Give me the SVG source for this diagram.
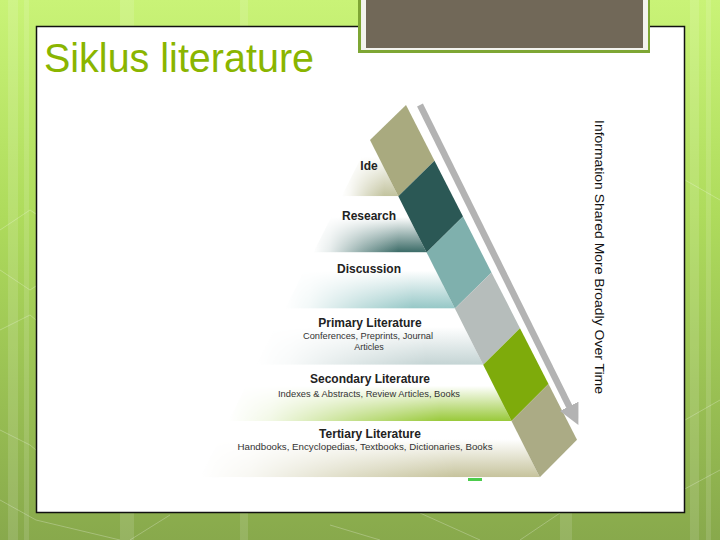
<svg xmlns="http://www.w3.org/2000/svg" width="720" height="540" viewBox="0 0 720 540">
<defs>
<linearGradient id="bg" x1="0" y1="0" x2="0" y2="1">
<stop offset="0" stop-color="#c9f377"/>
<stop offset="0.4" stop-color="#aedb5c"/>
<stop offset="1" stop-color="#88a94c"/>
</linearGradient>
<linearGradient id="mg" x1="0" y1="0" x2="1" y2="0">
<stop offset="0" stop-color="#000"/>
<stop offset="0.15" stop-color="#222"/>
<stop offset="0.45" stop-color="#999"/>
<stop offset="0.75" stop-color="#fff"/>
</linearGradient>
<mask id="fadeMask" maskContentUnits="objectBoundingBox">
<rect x="0" y="0" width="1" height="1" fill="url(#mg)"/>
</mask>
<linearGradient id="gIde" x1="0" y1="0" x2="0" y2="1">
<stop offset="0.3" stop-color="#fff"/>
<stop offset="1" stop-color="#c2c39e"/>
</linearGradient>
<linearGradient id="gRes" x1="0" y1="0" x2="0" y2="1">
<stop offset="0.35" stop-color="#fff"/>
<stop offset="1" stop-color="#3a6a66"/>
</linearGradient>
<linearGradient id="gDis" x1="0" y1="0" x2="0" y2="1">
<stop offset="0.3" stop-color="#fff"/>
<stop offset="1" stop-color="#95c7c6"/>
</linearGradient>
<linearGradient id="gPri" x1="0" y1="0" x2="0" y2="1">
<stop offset="0.3" stop-color="#fff"/>
<stop offset="1" stop-color="#c4d4d4"/>
</linearGradient>
<linearGradient id="gSec" x1="0" y1="0" x2="0" y2="1">
<stop offset="0.35" stop-color="#fff"/>
<stop offset="1" stop-color="#99c93a"/>
</linearGradient>
<linearGradient id="gTer" x1="0" y1="0" x2="0" y2="1">
<stop offset="0.3" stop-color="#fff"/>
<stop offset="1" stop-color="#c6c39c"/>
</linearGradient>
<marker id="arr" viewBox="0 0 10 10" refX="2" refY="5" markerWidth="3.2" markerHeight="3.2" orient="auto" markerUnits="strokeWidth">
<path d="M0,0 L10,5 L0,10 z" fill="#b3b3b3"/>
</marker>
</defs>
<style>
.lbl{font-family:"Liberation Sans",Arial,sans-serif;font-weight:bold;font-size:12px;fill:#222;text-anchor:middle}
.sub{font-family:"Liberation Sans",Arial,sans-serif;font-size:9px;fill:#333;text-anchor:middle}
.lay{mask:url(#fadeMask)}
</style>

<!-- background -->
<rect x="0" y="0" width="720" height="540" fill="url(#bg)"/>
<g fill="#fff" opacity="0.12">
<rect x="8" y="0" width="10" height="540"/>
<rect x="24" y="0" width="5" height="540"/>
<rect x="120" y="0" width="14" height="540"/>
<rect x="240" y="0" width="8" height="540"/>
<rect x="560" y="0" width="12" height="540"/>
<rect x="690" y="0" width="9" height="540"/>
<rect x="706" y="0" width="5" height="540"/>
</g>
<g fill="none" stroke="#fff" stroke-opacity="0.25" stroke-width="1">
<polyline points="0,230 30,210 60,230 60,270 30,290 0,270"/>
<polyline points="0,330 30,315 36,320"/>
<polyline points="0,430 30,445 36,450"/>
<polyline points="0,500 36,520 120,540"/>
<polyline points="130,540 170,515"/>
<polyline points="330,525 380,540"/>
<polyline points="420,513 480,540"/>
<polyline points="520,540 560,513"/>
<polyline points="640,513 720,470"/>
<polyline points="685,420 720,400"/>
<polyline points="685,180 720,200"/>
<polyline points="600,26 640,0"/>
</g>

<!-- panel -->
<rect x="36.5" y="26.5" width="648" height="486" fill="#fff" stroke="#111" stroke-width="1.5"/>

<!-- top box -->
<g id="topbox">
<rect x="358" y="-2" width="292" height="55" fill="#7ea634"/>
<rect x="361" y="-2" width="287" height="52" fill="#f3f3ee"/>
<rect x="366" y="-2" width="277" height="50" fill="#716858"/>
</g>

<text x="44" y="72" font-family="'Liberation Sans',Arial,sans-serif" font-size="40" fill="#8ab500" textLength="270" lengthAdjust="spacingAndGlyphs">Siklus literature</text>

<!-- pyramid layers -->
<g id="layer-ide">
<polygon class="lay" points="370,140 398.3,196.2 341.7,196.2" fill="url(#gIde)"/>
<text class="lbl" x="369" y="170">Ide</text>
</g>
<g id="layer-research">
<polygon class="lay" points="340.8,198 399.2,198 426.6,252.4 313.4,252.4" fill="url(#gRes)"/>
<text class="lbl" x="369" y="220">Research</text>
</g>
<g id="layer-discussion">
<polygon class="lay" points="312.4,254.4 427.6,254.4 454.9,308.6 285.1,308.6" fill="url(#gDis)"/>
<text class="lbl" x="369" y="273">Discussion</text>
</g>
<g id="layer-primary">
<polygon class="lay" points="284.1,310.6 455.9,310.6 483.2,364.8 256.8,364.8" fill="url(#gPri)"/>
<text class="lbl" x="370" y="327">Primary Literature</text>
<text class="sub" x="368" y="339" textLength="130" lengthAdjust="spacingAndGlyphs">Conferences, Preprints, Journal</text>
<text class="sub" x="369" y="350">Articles</text>
</g>
<g id="layer-secondary">
<polygon class="lay" points="255.8,366.8 484.2,366.8 511.5,421 228.5,421" fill="url(#gSec)"/>
<text class="lbl" x="370" y="383">Secondary Literature</text>
<text class="sub" x="369" y="397" textLength="182" lengthAdjust="spacingAndGlyphs">Indexes &amp; Abstracts, Review Articles, Books</text>
</g>
<g id="layer-tertiary">
<polygon class="lay" points="227.5,423 512.5,423 539.8,477.2 200.2,477.2" fill="url(#gTer)"/>
<text class="lbl" x="370" y="438">Tertiary Literature</text>
<text class="sub" x="365" y="450" textLength="255" lengthAdjust="spacingAndGlyphs">Handbooks, Encyclopedias, Textbooks, Dictionaries, Books</text>
</g>

<!-- diagonal colour strip -->
<g id="strip">
<polygon points="370,140 406,105 434.5,160.8 398.3,196.2" fill="#a9aa7f"/>
<polygon points="398.3,196.2 434.5,160.8 463,216.6 426.6,252.4" fill="#2b5855"/>
<polygon points="426.6,252.4 463,216.6 491.5,272.4 454.9,308.6" fill="#7fb0ad"/>
<polygon points="454.9,308.6 491.5,272.4 520,328.2 483.2,364.8" fill="#b6bdbb"/>
<polygon points="483.2,364.8 520,328.2 548.5,384 511.5,421" fill="#7eab0b"/>
<polygon points="511.5,421 548.5,384 577,439.8 539.8,477.2" fill="#abab85"/>
</g>

<!-- arrow -->
<g id="connectors">
<line x1="420" y1="105" x2="571" y2="410" stroke="#b3b3b3" stroke-width="6.5" marker-end="url(#arr)"/>
</g>

<text x="595" y="120" transform="rotate(90 595 120)" font-family="'Liberation Sans',Arial,sans-serif" font-size="12.5" fill="#111" textLength="274" lengthAdjust="spacingAndGlyphs">Information Shared More Broadly Over Time</text>

<rect x="468" y="478" width="14" height="3" fill="#4ccc4c"/>
</svg>
